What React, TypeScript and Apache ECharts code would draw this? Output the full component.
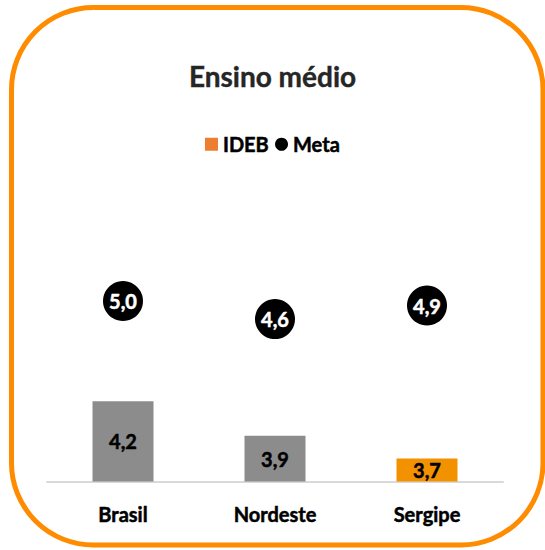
import React, { useEffect, useRef } from "react";
import * as echarts from "echarts";

const categories = ["Brasil", "Nordeste", "Sergipe"];
const idebValues = [4.2, 3.9, 3.7];
const idebColors = ["#8C8C8C", "#8C8C8C", "#F39200"];
const metaValues = [5.0, 4.6, 4.9];
const titleText = "Ensino médio";

const FONT = "Lato, 'Open Sans', sans-serif";
const fmt = (v: number) => v.toFixed(1).replace(".", ",");

export default function App() {
  const ref = useRef<HTMLDivElement>(null);
  useEffect(() => {
    if (!ref.current) return;
    const chart = echarts.init(ref.current, undefined, { renderer: "svg" });
    chart.setOption({
      animation: false,
      backgroundColor: "#ffffff",
      title: {
        text: titleText,
        left: "center",
        top: 57,
        textStyle: {
          fontFamily: FONT,
          fontSize: 28,
          fontWeight: "bold",
          color: "#262626",
          textBorderColor: "#262626",
          textBorderWidth: 0.4,
        },
      },
      legend: {
        top: 129,
        left: "center",
        itemWidth: 13,
        itemHeight: 13,
        itemGap: 6,
        textStyle: {
          fontFamily: FONT,
          fontSize: 20,
          fontWeight: "bold",
          color: "#000",
          textBorderColor: "#000",
          textBorderWidth: 0.5,
        },
        data: [
          { name: "IDEB", icon: "rect" },
          { name: "Meta", icon: "circle" },
        ],
      },
      graphic: [
        {
          type: "rect",
          z: -10,
          shape: { x: 11.5, y: 7.5, width: 531.5, height: 537.5, r: 82 },
          style: { fill: "none", stroke: "#FF8C00", lineWidth: 5 },
        },
      ],
      grid: { left: 47, right: 42, top: 195, bottom: 68.5 },
      xAxis: {
        type: "category",
        data: categories,
        axisLine: { show: true, lineStyle: { color: "#D9D9D9", width: 2 } },
        axisTick: { show: false },
        axisLabel: {
          margin: 22,
          fontFamily: FONT,
          fontSize: 20,
          fontWeight: "bold",
          color: "#000",
          textBorderColor: "#000",
          textBorderWidth: 0.5,
        },
      },
      yAxis: [
        { type: "value", min: 3.5, max: 6, show: false, splitLine: { show: false } },
        { type: "value", min: 1, max: 7.35, show: false, splitLine: { show: false } },
      ],
      series: [
        {
          name: "IDEB",
          type: "bar",
          barWidth: 61,
          itemStyle: { color: "#ED7D31" },
          data: idebValues.map((v, i) => ({ value: v, itemStyle: { color: idebColors[i] } })),
          label: {
            show: true,
            position: "inside",
            fontFamily: FONT,
            fontSize: 20,
            fontWeight: "bold",
            color: "#000",
            textBorderColor: "#000",
            textBorderWidth: 0.5,
            formatter: (p: any) => fmt(p.value),
          },
        },
        {
          name: "Meta",
          type: "scatter",
          yAxisIndex: 1,
          symbol: "circle",
          symbolSize: 40,
          itemStyle: { color: "#000", opacity: 1 },
          data: metaValues,
          label: {
            show: true,
            position: "inside",
            fontFamily: FONT,
            fontSize: 20,
            fontWeight: "bold",
            color: "#fff",
            textBorderColor: "#fff",
            textBorderWidth: 0.5,
            formatter: (p: any) => fmt(p.value),
          },
        },
      ],
    });
    return () => chart.dispose();
  }, []);
  return (
    <div
      ref={ref}
      style={{ position: "fixed", left: 0, top: 0, width: 545, height: 550 }}
    />
  );
}
